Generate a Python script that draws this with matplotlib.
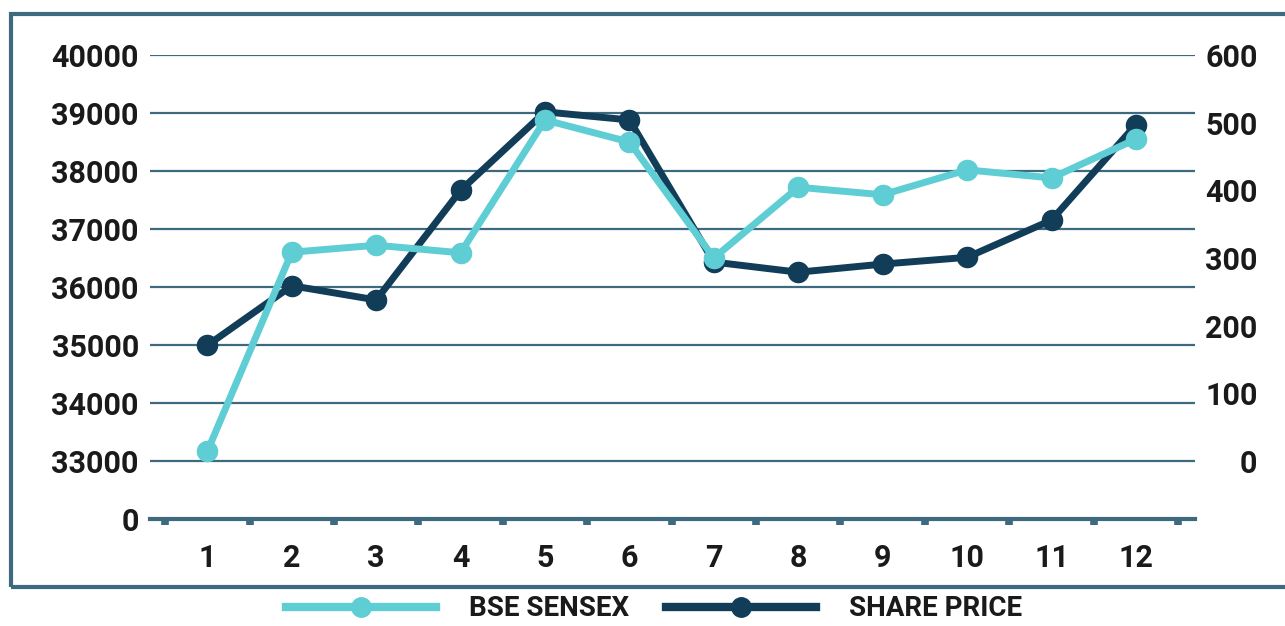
import matplotlib.pyplot as plt
from matplotlib.lines import Line2D
from matplotlib.patches import Rectangle

months = list(range(1, 13))
sensex = [33170, 36600, 36720, 36590, 38880, 38500, 36500, 37720, 37590, 38020, 37880, 38550]
share_price = [171, 259, 238, 400, 516, 504, 294, 279, 291, 301, 356, 497]

left_ticks = [32000, 33000, 34000, 35000, 36000, 37000, 38000, 39000, 40000]
left_labels = ['0', '33000', '34000', '35000', '36000', '37000', '38000', '39000', '40000']
right_ticks = [0, 100, 200, 300, 400, 500, 600]

teal = '#5fcdd4'
navy = '#123d58'
grid_col = '#3e6a80'
txt = '#1a1a1a'

plt.rcParams['font.family'] = ['Roboto', 'DejaVu Sans']
plt.rcParams['font.weight'] = 'bold'

fig = plt.figure(figsize=(12.85, 6.26), dpi=100)
rect = [150 / 1285, 1 - 519 / 626, 1045 / 1285, 464 / 626]

# base axes: sensex scale + grid
ax = fig.add_axes(rect)
ax.set_xlim(0.32, 12.70)
ax.set_ylim(32000, 40000)
ax.set_yticks(left_ticks)
ax.set_yticklabels(left_labels)
for y in left_ticks[1:]:
    ax.axhline(y, color=grid_col, lw=1.6, zorder=0)
ax.axhline(32000, color=grid_col, lw=3, zorder=0, clip_on=False)
for s in ax.spines.values():
    s.set_visible(False)
ax.set_xticks(months)
ax.set_xticks([m + 0.5 for m in range(0, 13)], minor=True)
ax.tick_params(axis='x', which='major', length=0, pad=17, labelsize=22, labelcolor=txt)
ax.tick_params(axis='x', which='minor', direction='out', length=4, width=5.5, color=grid_col)
ax.tick_params(axis='y', length=0, pad=8, labelsize=22, labelcolor=txt)

# share price on right scale
ax2 = ax.twinx()
ax2.set_ylim(-600 * 58 / 406, 600)
ax2.set_yticks(right_ticks)
ax2.tick_params(axis='y', length=0, pad=45, labelsize=22, labelcolor=txt)
for lab in ax2.get_yticklabels():
    lab.set_horizontalalignment('right')
for s in ax2.spines.values():
    s.set_visible(False)
ax2.plot(months, share_price, color=navy, lw=5, marker='o', ms=14.5)

# sensex line on top
ax3 = fig.add_axes(rect, sharex=ax, sharey=ax)
ax3.patch.set_visible(False)
ax3.axis('off')
ax3.plot(months, sensex, color=teal, lw=5, marker='o', ms=14.5)

# outer frame
fig.patches.append(Rectangle((11 / 1285, 1 - 587 / 626), 1.2, (587 - 13.5) / 626,
                             transform=fig.transFigure, fill=False,
                             edgecolor=grid_col, lw=3))

handles = [Line2D([], [], color=teal, lw=6, marker='o', ms=14),
           Line2D([], [], color=navy, lw=6, marker='o', ms=14)]
fig.legend(handles, ['BSE SENSEX', 'SHARE PRICE'], loc='center',
           bbox_to_anchor=(654 / 1285, 1 - 609 / 626), ncol=2, frameon=False,
           handlelength=5.4, handletextpad=1.2, columnspacing=1.3, borderpad=0,
           prop={'size': 20, 'weight': 'bold'}, labelcolor=txt)

fig.savefig('out.png', dpi=100)
